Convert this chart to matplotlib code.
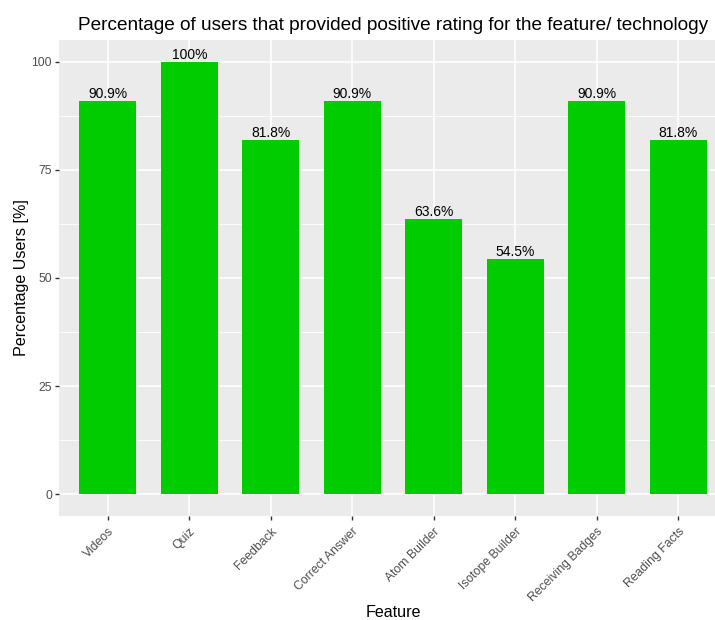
import numpy as np
import matplotlib
matplotlib.use("Agg")
from matplotlib import pyplot as plt

plt.rcParams["font.family"] = ["Liberation Sans", "DejaVu Sans"]

features = ["Videos", "Quiz", "Feedback", "Correct Answer", "Atom Builder",
            "Isotope Builder", "Receiving Badges", "Reading Facts"]
percent = [90.9, 100, 81.8, 90.9, 63.6, 54.5, 90.9, 81.8]
labels = ["90.9%", "100%", "81.8%", "90.9%", "63.6%", "54.5%", "90.9%", "81.8%"]
yticks = [0, 25, 50, 75, 100]
yminor = [12.5, 37.5, 62.5, 87.5]

fig = plt.figure(figsize=(7.15, 6.2), dpi=100)
# panel runs a bit past the right edge, like the source image
ax = fig.add_axes([59 / 715, (620 - 516) / 620, (727 - 59) / 715, (516 - 40) / 620])
ax.set_facecolor("#EBEBEB")
for s in ax.spines.values():
    s.set_visible(False)

x = np.arange(len(features))
ax.set_xlim(-0.6, len(features) - 0.4)
ax.set_ylim(-5, 105)

for y in yminor:
    ax.axhline(y, color="white", lw=0.6, zorder=0)
for y in yticks:
    ax.axhline(y, color="white", lw=1.2, zorder=0)
for xi in x:
    ax.axvline(xi, color="white", lw=1.2, zorder=0)

ax.bar(x, percent, width=0.7, color="#00CC00", zorder=2)
for xi, v, t in zip(x, percent, labels):
    ax.text(xi, v, t, ha="center", va="bottom", fontsize=10, color="black", zorder=3)

ax.set_xticks(x)
ax.set_xticklabels(features, rotation=45, ha="right", rotation_mode="anchor",
                   fontsize=8.8, color="#4D4D4D")
ax.set_yticks(yticks)
ax.set_yticklabels([str(v) for v in yticks], fontsize=8.8, color="#4D4D4D")
ax.tick_params(axis="both", length=3, width=1, color="#333333", pad=2)
ax.tick_params(axis="x", pad=4)

ax.set_ylabel("Percentage Users [%]", fontsize=11.6, labelpad=2)
ax.set_xlabel("Feature", fontsize=11.6, labelpad=0.5)
ax.set_title("Percentage of users that provided positive rating for the feature/ technology",
             fontsize=13.7, pad=7)

fig.savefig("out.png", dpi=100)
plt.close(fig)
